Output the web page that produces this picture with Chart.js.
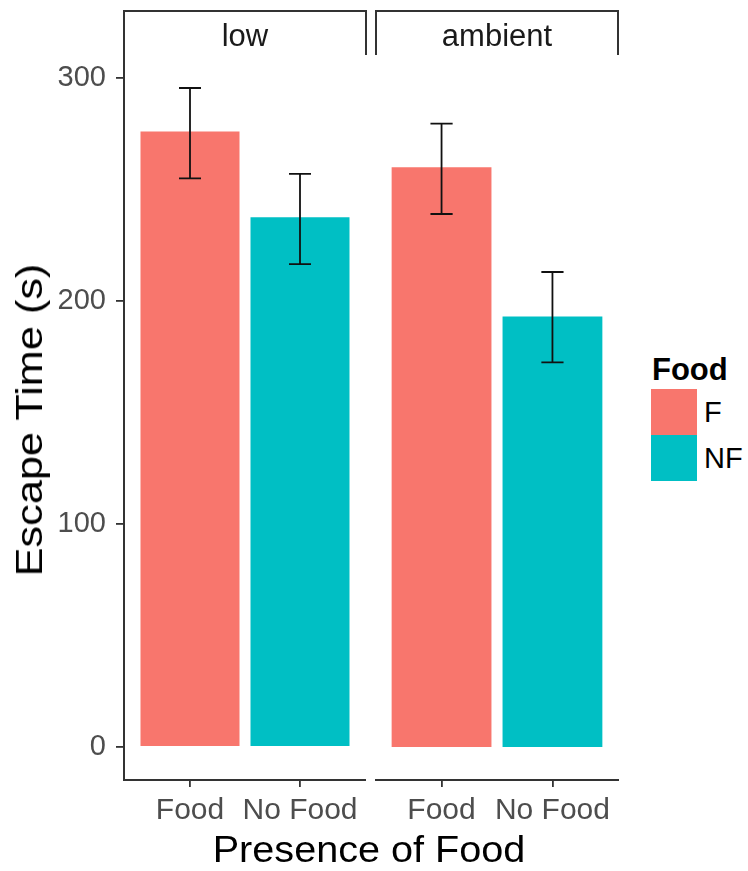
<!DOCTYPE html>
<html>
<head>
<meta charset="utf-8">
<script src="https://cdn.jsdelivr.net/npm/chart.js@4"></script>
<style>
  body { margin: 0; background: #fff; font-family: "Liberation Sans", Arial, sans-serif; }
  #wrap { position: relative; width: 748px; height: 871px; }
  canvas { position: absolute; top: 0; }
  .strip { position: absolute; top: 10px; height: 45px; box-sizing: border-box;
    border: 2px solid #333; border-bottom: none; text-align: center;
    font-size: 31px; line-height: 48px; color: #1a1a1a; }
  .lbl { position: absolute; color: #000; white-space: nowrap; }
  .key { position: absolute; left: 651px; width: 46px; height: 46px; }
  .keytxt { position: absolute; left: 704px; font-size: 29px; color: #000; }
</style>
</head>
<body>
<div id="wrap">
  <canvas id="low"></canvas>
  <canvas id="ambient"></canvas>
  <div class="strip" style="left:123px;width:244px;">low</div>
  <div class="strip" style="left:375px;width:244px;">ambient</div>
  <div class="lbl" style="left:30px;top:420px;font-size:37px;transform:translate(-50%,-50%) rotate(-90deg) scaleX(1.17);">Escape Time (s)</div>
  <div class="lbl" style="left:369px;top:850px;font-size:36px;transform:translate(-50%,-50%) scaleX(1.1);">Presence of Food</div>
  <div class="lbl" style="left:652px;top:352px;font-size:31px;font-weight:bold;">Food</div>
  <div class="key" style="top:389px;background:#F8766D;"></div>
  <div class="key" style="top:435px;background:#00BFC4;"></div>
  <div class="keytxt" style="top:396px;">F</div>
  <div class="keytxt" style="top:442px;">NF</div>
</div>
<script>
// kategori dan nilai rata-rata
const categories = ['Food', 'No Food'];
const panels = ['low', 'ambient'];
const lowMeans = [276, 237.5];
const lowLower = [255, 216.5];
const lowUpper = [295.5, 257];
const ambientMeans = [260, 193];
const ambientLower = [239, 172.5];
const ambientUpper = [279.5, 213];
const yTicks = [0, 100, 200, 300];
const barColors = ['#F8766D', '#00BFC4'];

const fontFamily = '"Liberation Sans", Arial, sans-serif';

// plugin untuk menggambar error bar
const errorBars = {
    id: 'errorBars',
    afterDatasetsDraw(chart) {
        const { ctx, scales: { x, y } } = chart;
        const lower = chart.options.plugins.errorBars.lower;
        const upper = chart.options.plugins.errorBars.upper;
        ctx.save();
        ctx.strokeStyle = '#111';
        ctx.lineWidth = 1.8;
        lower.forEach((lo, i) => {
            const cx = x.getPixelForValue(i + 1);
            const half = x.getPixelForValue(1.1) - x.getPixelForValue(1);
            const yLo = y.getPixelForValue(lo);
            const yHi = y.getPixelForValue(upper[i]);
            ctx.beginPath();
            ctx.moveTo(cx, yLo); ctx.lineTo(cx, yHi);
            ctx.moveTo(cx - half, yLo); ctx.lineTo(cx + half, yLo);
            ctx.moveTo(cx - half, yHi); ctx.lineTo(cx + half, yHi);
            ctx.stroke();
        });
        ctx.restore();
    }
};

function makePanel(id, left, width, means, lower, upper, showY) {
    const canvas = document.getElementById(id);
    canvas.style.left = left + 'px';
    canvas.width = width;
    canvas.height = 871;
    canvas.style.width = width + 'px';
    canvas.style.height = '871px';
    return new Chart(canvas.getContext('2d'), {
        type: 'bar',
        data: {
            datasets: [{
                data: means.map((v, i) => ({ x: i + 1, y: v })),
                backgroundColor: barColors,
                borderWidth: 0,
                barPercentage: 0.9,
                categoryPercentage: 1.0
            }]
        },
        options: {
            responsive: false,
            animation: false,
            layout: { padding: { top: 55, left: 0, right: 0, bottom: 0 } },
            plugins: {
                legend: { display: false },
                tooltip: { enabled: false },
                errorBars: { lower: lower, upper: upper }
            },
            scales: {
                x: {
                    type: 'linear',
                    offset: false,
                    min: 0.4,
                    max: 2.6,
                    afterBuildTicks: s => { s.ticks = [{ value: 1 }, { value: 2 }]; },
                    afterFit: s => { s.height = 91; s.paddingLeft = 0; s.paddingRight = 0; },
                    ticks: {
                        callback: v => categories[v - 1],
                        font: { family: fontFamily, size: 30 },
                        color: '#4d4d4d',
                        padding: 6,
                        maxRotation: 0,
                        autoSkip: false
                    },
                    grid: { offset: false, drawOnChartArea: false, drawTicks: true, tickLength: 7, color: '#333', lineWidth: 1.8 },
                    border: { display: true, color: '#333', width: 2 }
                },
                y: {
                    display: showY,
                    min: -14.8,
                    max: 310.3,
                    afterBuildTicks: s => { s.ticks = yTicks.map(v => ({ value: v })); },
                    afterFit: s => {
                        s.width = showY ? 124 : 0;
                        s.paddingTop = 0; s.paddingBottom = 0;
                    },
                    ticks: {
                        font: { family: fontFamily, size: 29 },
                        color: '#4d4d4d',
                        padding: 10
                    },
                    grid: { drawOnChartArea: false, drawTicks: true, tickLength: 8, color: '#333', lineWidth: 1.8 },
                    border: { display: true, color: '#333', width: 2 }
                }
            }
        },
        plugins: [errorBars]
    });
}

makePanel('low', 0, 366, lowMeans, lowLower, lowUpper, true);
makePanel('ambient', 375, 244, ambientMeans, ambientLower, ambientUpper, false);
</script>
</body>
</html>
